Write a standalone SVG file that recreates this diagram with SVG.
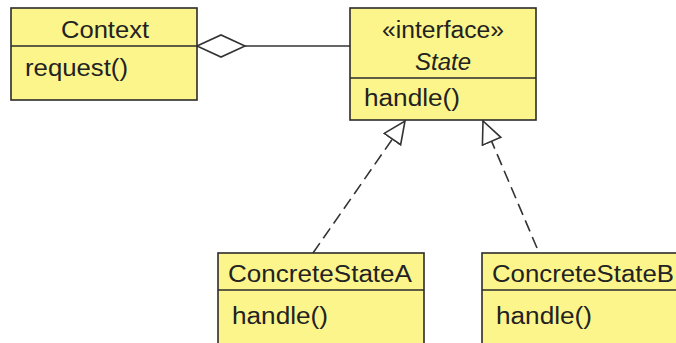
<svg xmlns="http://www.w3.org/2000/svg" width="676" height="343" viewBox="0 0 676 343">
<style>
.box{fill:#FCF58B;stroke:#2b2b2b;stroke-width:1.6}
.div{stroke:#2b2b2b;stroke-width:1.6}
.t{font-family:"Liberation Sans",Arial,sans-serif;font-size:23px;fill:#222}
.c{text-anchor:middle}
.it{font-style:italic}
.dash{fill:none;stroke:#333;stroke-width:1.6;stroke-dasharray:12 6}
.solid{fill:none;stroke:#333;stroke-width:1.6}
</style>
<defs>
<marker id="tri" markerUnits="userSpaceOnUse" markerWidth="26" markerHeight="24" refX="23" refY="11" orient="auto">
<path d="M1,1 L23,11 L1,21 Z" fill="#fff" stroke="#333" stroke-width="1.6"/>
</marker>
</defs>
<rect width="676" height="343" fill="#fff"/>
<g id="connectors">
<line class="solid" x1="245" y1="46" x2="350" y2="46"/>
<polygon points="197,46 221,35 245,46 221,57" fill="#fff" stroke="#333" stroke-width="1.6"/>
<line class="dash" x1="313" y1="253" x2="405" y2="121" marker-end="url(#tri)"/>
<line class="dash" x1="537" y1="248" x2="483" y2="121" marker-end="url(#tri)"/>
</g>
<g id="Context">
<rect class="box" x="11" y="8" width="186" height="92"/>
<line class="div" x1="11" y1="46" x2="197" y2="46"/>
<text class="t c" x="105" y="38" textLength="88" lengthAdjust="spacingAndGlyphs">Context</text>
<text class="t" x="25" y="76" textLength="103" lengthAdjust="spacingAndGlyphs">request()</text>
</g>
<g id="State">
<rect class="box" x="350" y="8" width="186" height="112"/>
<line class="div" x1="350" y1="78" x2="536" y2="78"/>
<text class="t c" x="443" y="38" textLength="122" lengthAdjust="spacingAndGlyphs">«interface»</text>
<text class="t c it" x="443" y="70" textLength="56" lengthAdjust="spacingAndGlyphs">State</text>
<text class="t" x="364" y="106" textLength="96" lengthAdjust="spacingAndGlyphs">handle()</text>
</g>
<g id="ConcreteStateA">
<rect class="box" x="218" y="253" width="206" height="100"/>
<line class="div" x1="218" y1="290" x2="424" y2="290"/>
<text class="t" x="228" y="282" textLength="184" lengthAdjust="spacingAndGlyphs">ConcreteStateA</text>
<text class="t" x="232" y="324" textLength="96" lengthAdjust="spacingAndGlyphs">handle()</text>
</g>
<g id="ConcreteStateB">
<rect class="box" x="482" y="253" width="220" height="100"/>
<line class="div" x1="482" y1="290" x2="702" y2="290"/>
<text class="t" x="492" y="282" textLength="182" lengthAdjust="spacingAndGlyphs">ConcreteStateB</text>
<text class="t" x="496" y="324" textLength="96" lengthAdjust="spacingAndGlyphs">handle()</text>
</g>
</svg>
